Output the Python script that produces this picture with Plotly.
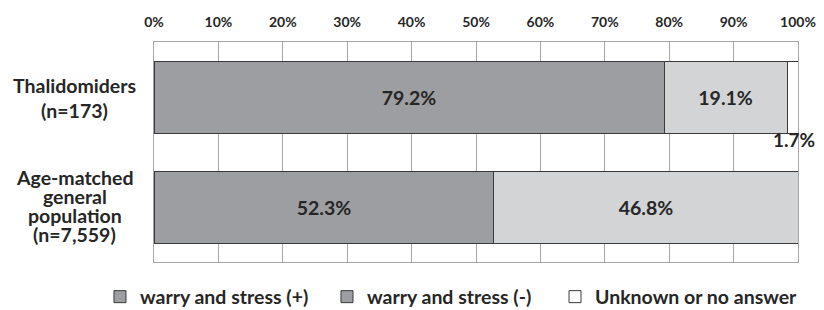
import plotly.graph_objects as go

categories = ["Thalidomiders", "Age-matched general population"]
category_label_lines = [["Thalidomiders", "(n=173)"],
                        ["Age-matched", "general", "population", "(n=7,559)"]]
series_names = ["warry and stress (+)", "warry and stress (-)", "Unknown or no answer"]
stress_pos = [79.2, 52.3]
stress_neg = [19.1, 46.8]
unknown = [1.7, 0.0]
tick_vals = [0, 10, 20, 30, 40, 50, 60, 70, 80, 90, 100]
tick_text = ["0%", "10%", "20%", "30%", "40%", "50%", "60%", "70%", "80%", "90%", "100%"]

bar_colors = ["#9d9ea2", "#d3d4d6", "#ffffff"]
legend_colors = ["#9d9ea2", "#9d9ea2", "#ffffff"]
legend_ids = ["legend", "legend2", "legend3"]
legend_x = [-0.0839, 0.2686, 0.6227]
FONT = "Lato"
TXT = "#262626"

fig = go.Figure()
series = [stress_pos, stress_neg, unknown]
for i, vals in enumerate(series):
    texts = []
    for v in vals:
        texts.append(f"{v:.1f}%" if (v > 5) else "")
    fig.add_trace(go.Bar(
        y=categories, x=vals, orientation="h", name=series_names[i],
        marker=dict(color=bar_colors[i], line=dict(color="#3a3a3a", width=1)),
        text=texts, textposition="inside", insidetextanchor="middle",
        textfont=dict(family=FONT, size=19.5, color=TXT, weight="bold"),
        width=0.655, showlegend=False, hoverinfo="skip",
    ))
# legend entries (one legend box per entry for exact spacing)
for i, name in enumerate(series_names):
    fig.add_trace(go.Bar(
        y=[None], x=[None], orientation="h", name=name, legend=legend_ids[i],
        marker=dict(color=legend_colors[i], line=dict(color="#3a3a3a", width=1)),
        showlegend=True,
    ))

# small-value label below bar
for ci, v in enumerate(unknown):
    if 0 < v <= 5:
        fig.add_annotation(x=100, y=categories[ci], xref="x", yref="y",
                           text=f"{v:.1f}%", showarrow=False, yshift=-42, xshift=19,
                           xanchor="right", yanchor="middle",
                           font=dict(family=FONT, size=19, color=TXT, weight="bold"))

# category labels (centered, tight line spacing)
LINE = [24.5, 19.0]
OFFSET = [-0.5, 1.0]
for ci, lines in enumerate(category_label_lines):
    n = len(lines)
    for j, line in enumerate(lines):
        fig.add_annotation(x=-0.123, y=categories[ci], xref="paper", yref="y",
                           text=line, showarrow=False, xanchor="center", yanchor="middle",
                           yshift=-(j - (n - 1) / 2) * LINE[ci] + OFFSET[ci],
                           font=dict(family=FONT, size=19.5, color=TXT, weight="bold"))

legend_style = dict(orientation="h", xref="paper", yref="paper", xanchor="left",
                    y=-0.159, yanchor="middle", bgcolor="rgba(0,0,0,0)",
                    font=dict(family=FONT, size=19.5, color=TXT, weight="bold"),
                    itemwidth=30)

fig.update_layout(
    barmode="stack", barnorm="percent",
    width=816, height=302,
    margin=dict(l=146, r=26, t=34, b=48, autoexpand=False),
    paper_bgcolor="white", plot_bgcolor="white",
    font=dict(family=FONT, color=TXT),
    bargap=0.345,
    legend=dict(x=legend_x[0], **legend_style),
    legend2=dict(x=legend_x[1], **legend_style),
    legend3=dict(x=legend_x[2], **legend_style),
)
fig.update_xaxes(side="top", range=[0, 100], tickvals=tick_vals, ticktext=tick_text,
                 showgrid=True, gridcolor="#a6a6a6", gridwidth=1,
                 showline=True, linecolor="#a6a6a6", mirror=True, automargin=False,
                 tickfont=dict(family=FONT, size=14, color=TXT, weight="bold"),
                 ticks="", ticklabelstandoff=8, zeroline=False, fixedrange=True)
fig.update_yaxes(categoryorder="array", categoryarray=categories, autorange="reversed",
                 showticklabels=False, showline=True, linecolor="#a6a6a6", mirror=True,
                 showgrid=False, ticks="", automargin=False)

fig.write_html("out.html")
